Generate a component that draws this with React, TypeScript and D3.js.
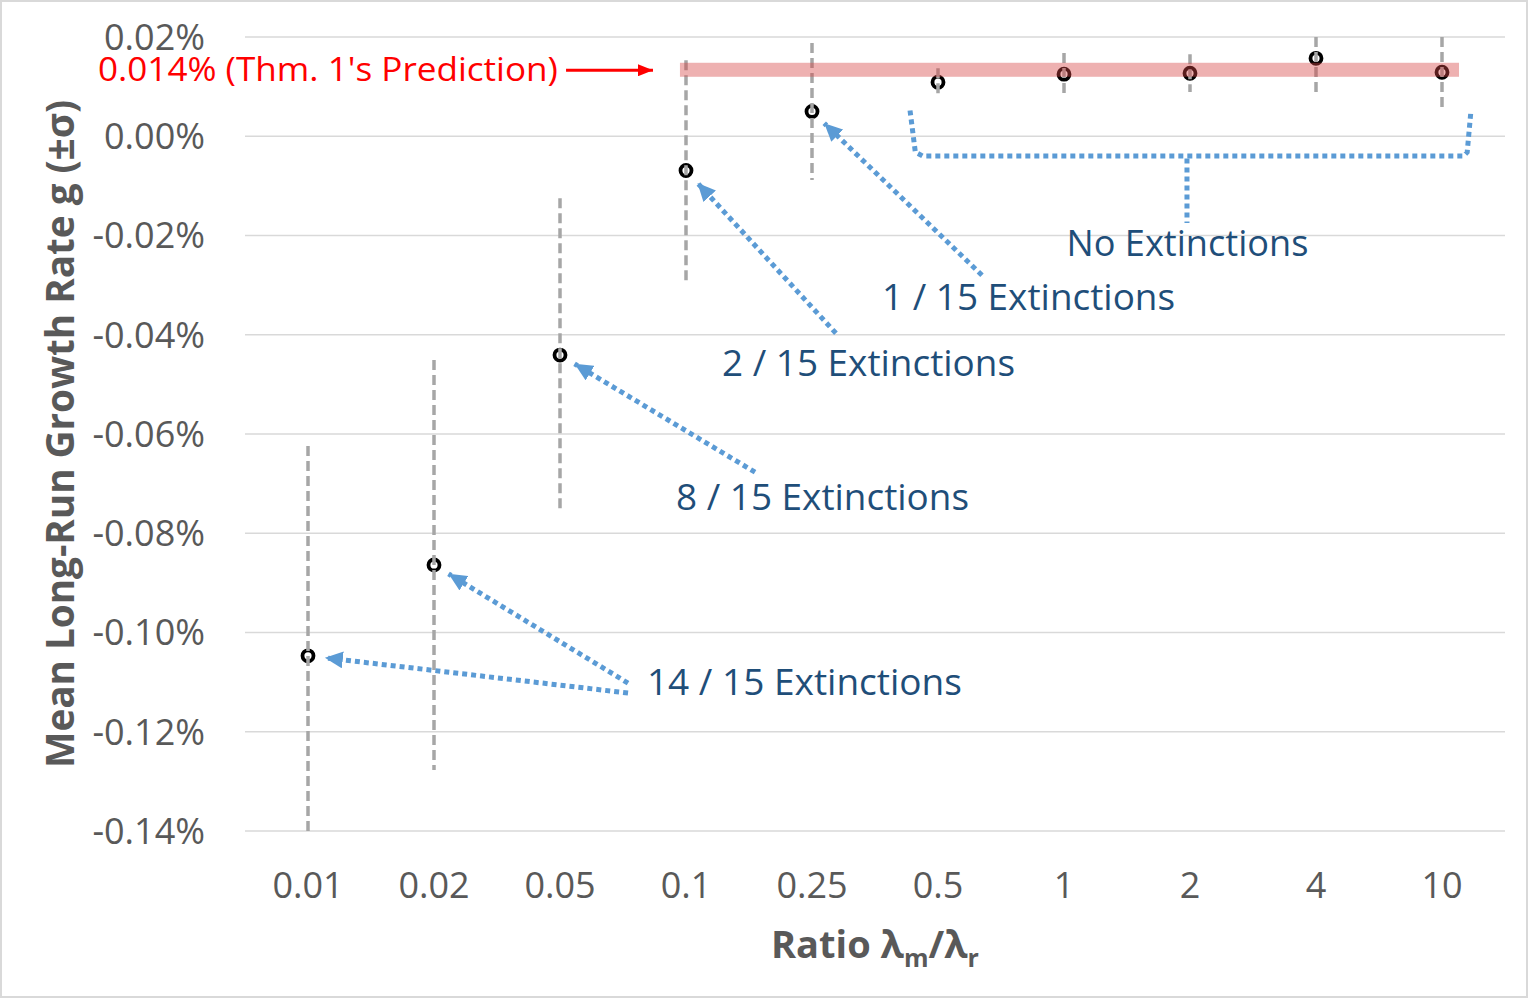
import React from 'react';
import * as d3 from 'd3';

const categories = ['0.01', '0.02', '0.05', '0.1', '0.25', '0.5', '1', '2', '4', '10'];
// mean long-run growth rate g, in percent
const meanGrowth = [-0.1047, -0.0864, -0.0441, -0.0069, 0.005, 0.0109, 0.0125, 0.0127, 0.0157, 0.0129];
// one standard deviation, in percent
const sigma = [0.0423, 0.0413, 0.0316, 0.0222, 0.0138, 0.0028, 0.0043, 0.0038, 0.0068, 0.0072];
const yTicks = [-0.14, -0.12, -0.1, -0.08, -0.06, -0.04, -0.02, 0, 0.02];
const PREDICTION = 0.014;

// annotation texts, placed at [category index, value]
const labelTexts = ['No Extinctions', '1 / 15 Extinctions', '2 / 15 Extinctions', '8 / 15 Extinctions', '14 / 15 Extinctions'];
const labelAt: [number, number][] = [[6.98, -0.0242], [4.556, -0.035], [3.286, -0.0483], [2.921, -0.0753], [2.69, -0.1126]];
const labelLen = [242, 293, 293, 293, 315];

// arrows from a label to the point of a category
const arrowFrom: [number, number][] = [[2.54, -0.1122], [2.54, -0.1102], [3.548, -0.0677], [4.19, -0.0397], [5.349, -0.028]];
const arrowTo = [0, 1, 2, 3, 4];

const W = 1528, H = 998;
const margin = { top: 37, right: 23, bottom: 167, left: 245 };

const App: React.FC = () => {
  const x = d3.scaleBand().domain(categories).range([margin.left, W - margin.right]);
  const y = d3.scaleLinear().domain([-0.14, 0.02]).range([H - margin.bottom, margin.top]);
  const cx = (c: string) => (x(c) ?? 0) + x.bandwidth() / 2;
  const xi = d3.scaleLinear().domain([0, categories.length - 1]).range([cx(categories[0]), cx(categories[categories.length - 1])]);
  const clamp = (v: number) => Math.max(-0.14, Math.min(0.02, v));

  const grey = '#595959';
  const blue = '#5b9bd5';
  const font = "'Open Sans', 'Noto Sans', sans-serif";

  const bracket = d3.line()([
    [xi(4.778), y(0.0052)], [xi(4.82), y(-0.0032)], [xi(4.88), y(-0.004)],
    [xi(9.17), y(-0.004)], [xi(9.2), y(-0.0032)], [xi(9.23), y(0.0052)],
  ]);

  return (
    <svg width={W} height={H} style={{ position: 'absolute', left: 0, top: 0, background: '#fff' }} fontFamily={font}>
      <defs>
        <marker id="blueHead" markerUnits="userSpaceOnUse" markerWidth={19} markerHeight={17} refX={18} refY={8.5} orient="auto">
          <path d="M0,0 L18,8.5 L0,17 z" fill={blue} />
        </marker>
        <marker id="redHead" markerUnits="userSpaceOnUse" markerWidth={16} markerHeight={12} refX={15} refY={6} orient="auto">
          <path d="M0,0 L15,6 L0,12 z" fill="#ff0000" />
        </marker>
      </defs>
      <rect x={1} y={1} width={W - 2} height={H - 2} fill="#fff" stroke="#d9d9d9" strokeWidth={2} />

      {yTicks.map(t => (
        <g key={t}>
          <line x1={margin.left} x2={W - margin.right} y1={y(t)} y2={y(t)} stroke="#d9d9d9" strokeWidth={1.5} />
          <text x={margin.left - 40} y={y(t)} dy="0.36em" textAnchor="end" fontSize={36} fill={grey}>
            {`${t.toFixed(2)}%`}
          </text>
        </g>
      ))}

      {categories.map(c => (
        <text key={c} x={cx(c)} y={H - margin.bottom + 67} textAnchor="middle" fontSize={36} fill={grey}>{c}</text>
      ))}

      {categories.map((c, i) => (
        <circle key={c} cx={cx(c)} cy={y(meanGrowth[i])} r={5.5} fill="none" stroke="#000" strokeWidth={3.8} />
      ))}
      {categories.map((c, i) => (
        <line key={c} x1={cx(c)} x2={cx(c)}
          y1={y(clamp(meanGrowth[i] + sigma[i]))} y2={y(clamp(meanGrowth[i] - sigma[i]))}
          stroke="#a6a6a6" strokeWidth={3.5} strokeDasharray="10 5" />
      ))}

      <rect x={xi(2.952)} y={y(PREDICTION) - 4} width={xi(9.135) - xi(2.952)} height={14}
        fill="rgb(215,70,70)" fillOpacity={0.42} />

      <line x1={xi(2.048)} x2={xi(2.738)} y1={y(0.0133)} y2={y(0.0133)} stroke="#ff0000" strokeWidth={3} markerEnd="url(#redHead)" />
      <text x={xi(1.984)} y={y(0.0111)} textAnchor="end" fontSize={33} fill="#ff0000" textLength={460} lengthAdjust="spacingAndGlyphs">
        {`${PREDICTION.toFixed(3)}% (Thm. 1's Prediction)`}
      </text>

      <path d={bracket ?? ''} fill="none" stroke={blue} strokeWidth={5} strokeDasharray="5 4" />
      <line x1={xi(6.976)} x2={xi(6.976)} y1={y(-0.0045)} y2={y(-0.0175)} stroke={blue} strokeWidth={5} strokeDasharray="5 4" />

      {arrowTo.map((k, i) => {
        const [fx, fy] = [xi(arrowFrom[i][0]), y(arrowFrom[i][1])];
        const px = cx(categories[k]), py = y(meanGrowth[k]);
        const d = Math.hypot(fx - px, fy - py);
        const tx = px + (fx - px) / d * 17, ty = py + (fy - py) / d * 17;
        return (
          <line key={i} x1={fx} y1={fy} x2={tx} y2={ty} stroke={blue} strokeWidth={5} strokeDasharray="5 4" markerEnd="url(#blueHead)" />
        );
      })}

      {labelTexts.map((t, i) => (
        <text key={t} x={xi(labelAt[i][0])} y={y(labelAt[i][1])} textAnchor={i === 0 ? 'middle' : 'start'}
          fontSize={36} fill="#1f4e79" textLength={labelLen[i]} lengthAdjust="spacingAndGlyphs">{t}</text>
      ))}

      <text transform={`translate(74,${(margin.top + 100 + 768 - 37) / 2}) rotate(-90)`} textAnchor="middle"
        fontSize={40} fontWeight="bold" fill={grey} textLength={668} lengthAdjust="spacingAndGlyphs">
        Mean Long-Run Growth Rate g (±σ)
      </text>

      <text x={(margin.left + W - margin.right) / 2} y={958} textAnchor="middle" fontSize={38} fontWeight="bold" fill={grey}>
        Ratio λ<tspan fontSize={25} dy={9}>m</tspan><tspan dy={-9}>/λ</tspan><tspan fontSize={25} dy={9}>r</tspan>
      </text>
    </svg>
  );
};

export default App;
